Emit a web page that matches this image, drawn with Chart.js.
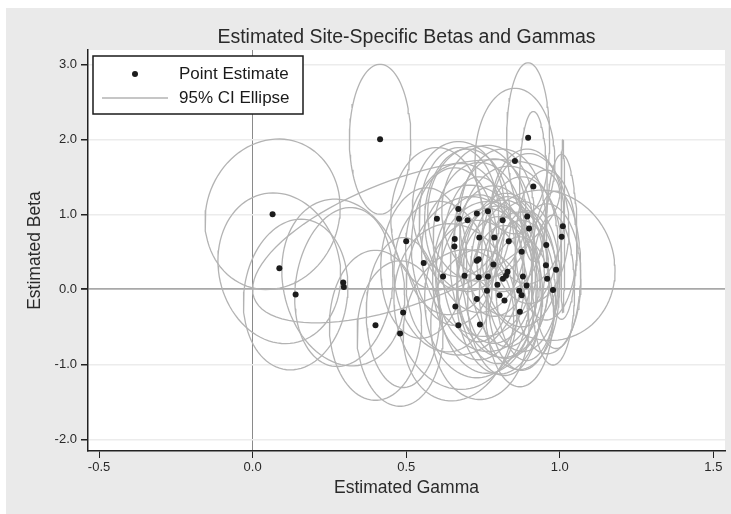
<!DOCTYPE html>
<html>
<head>
<meta charset="utf-8">
<script src="https://cdn.jsdelivr.net/npm/chart.js@4.4.1/dist/chart.umd.min.js"></script>
<style>
  html, body { margin: 0; padding: 0; background: #fff; }
  #wrap { width: 731px; height: 514px; }
</style>
</head>
<body>
<div id="wrap"><canvas id="chart" width="731" height="514"></canvas></div>
<script>
// point estimates per site
const gammaEst = [0.065, 0.087, 0.14, 0.295, 0.297, 0.415, 0.40, 0.48, 0.49, 0.50,
  0.557, 0.60, 0.62, 0.67, 0.672, 0.70, 0.73, 0.766, 0.814, 0.894,
  0.90, 0.897, 0.854, 0.914, 0.658, 0.657, 0.738, 0.787, 0.834, 0.73,
  0.736, 0.784, 0.876, 0.956, 1.01, 1.006, 0.955, 0.988, 0.959, 0.978,
  0.69, 0.736, 0.766, 0.797, 0.825, 0.83, 0.815, 0.88, 0.892, 0.868,
  0.876, 0.763, 0.804, 0.82, 0.73, 0.66, 0.87, 0.67, 0.74];
const betaEst = [1.00, 0.28, -0.07, 0.09, 0.03, 2.00, -0.48, -0.59, -0.31, 0.64,
  0.35, 0.94, 0.17, 1.07, 0.94, 0.92, 1.01, 1.04, 0.92, 0.97,
  0.81, 2.02, 1.71, 1.37, 0.67, 0.57, 0.69, 0.69, 0.64, 0.38,
  0.40, 0.33, 0.50, 0.59, 0.84, 0.70, 0.32, 0.26, 0.14, -0.01,
  0.18, 0.16, 0.17, 0.06, 0.18, 0.235, 0.14, 0.17, 0.05, -0.02,
  -0.08, -0.02, -0.08, -0.15, -0.13, -0.23, -0.30, -0.48, -0.47];

// 95% CI ellipse shape per site: half-width in gamma, half-height in beta, tilt (dBeta/dGamma)
const ellGammaHalf = [0.22, 0.20, 0.17, 0.20, 0.16, 0.10, 0.15, 0.14, 0.12, 0.50,
  0.14, 0.15, 0.16, 0.15, 0.13, 0.14, 0.16, 0.15, 0.14, 0.12,
  0.13, 0.07, 0.13, 0.045, 0.16, 0.14, 0.15, 0.13, 0.16, 0.18,
  0.12, 0.14, 0.13, 0.10, 0.006, 0.05, 0.225, 0.08, 0.11, 0.07,
  0.19, 0.15, 0.17, 0.13, 0.14, 0.12, 0.15, 0.12, 0.10, 0.13,
  0.11, 0.16, 0.14, 0.12, 0.17, 0.20, 0.11, 0.18, 0.16];
const ellBetaHalf = [1.0, 1.0, 1.0, 1.1, 1.05, 1.0, 1.0, 0.97, 1.0, 0.88,
  1.0, 0.95, 1.0, 0.9, 0.95, 0.95, 0.9, 0.88, 0.95, 0.9,
  1.0, 1.0, 0.97, 1.0, 1.0, 1.05, 1.0, 1.05, 1.0, 1.0,
  1.1, 1.05, 1.0, 1.0, 1.15, 1.1, 1.0, 1.05, 1.0, 1.0,
  1.05, 1.1, 1.0, 1.05, 1.1, 1.0, 1.05, 1.0, 1.0, 1.05,
  1.0, 1.1, 1.05, 1.0, 1.05, 1.1, 1.0, 1.0, 1.0];
const ellTilt = [0.4, -0.5, 0.6, -0.8, 0.9, 0, 0, 0, 0, 1.28,
  0.5, 0, -0.6, 0, 0, 0, 0, 0, 0, 0,
  0, 0, 0, 0, 0.8, 0, 0, 0, 0, -0.7,
  0, 0, 0, 0, 0, 0, -0.3, 0, 0, 0,
  0.6, 0, 0, 0, 0, 0, 0, 0, 0, 0,
  0, 0, 0, 0, 0, -0.5, 0, 0.7, 0];

const xTicks = [-0.5, 0.0, 0.5, 1.0, 1.5];
const yTicks = [-2.0, -1.0, 0.0, 1.0, 2.0, 3.0];

const ellipseColor = '#b3b3b3';
const dotColor = '#1c1c1c';
const fontFam = '"Liberation Sans", Arial, sans-serif';

function ellipseOutline(i) {
  const pts = [];
  for (let k = 0; k <= 90; k++) {
    const t = k / 90 * 2 * Math.PI;
    const dx = ellGammaHalf[i] * Math.cos(t);
    pts.push({ x: gammaEst[i] + dx, y: betaEst[i] + ellBetaHalf[i] * Math.sin(t) + ellTilt[i] * dx });
  }
  return pts;
}

const datasets = [{
  label: 'Point Estimate',
  data: gammaEst.map((g, i) => ({ x: g, y: betaEst[i] })),
  pointRadius: 3,
  pointBackgroundColor: dotColor,
  pointBorderWidth: 0,
  showLine: false
}];
gammaEst.forEach((g, i) => {
  datasets.push({
    label: '95% CI Ellipse',
    data: ellipseOutline(i),
    showLine: true,
    borderColor: ellipseColor,
    borderWidth: 1.3,
    pointRadius: 0,
    tension: 0
  });
});

// background, titles and legend, drawn like the Stata graph
const stataLook = {
  id: 'stataLook',
  beforeDraw(chart) {
    const { ctx, chartArea: a } = chart;
    ctx.save();
    ctx.fillStyle = '#ffffff';
    ctx.fillRect(0, 0, chart.width, chart.height);
    ctx.fillStyle = '#eaeaea';
    ctx.fillRect(6, 8, chart.width - 6, chart.height - 8);
    ctx.fillStyle = '#ffffff';
    ctx.fillRect(a.left, a.top, a.right - a.left, a.bottom - a.top);
    ctx.restore();
  },
  afterDraw(chart) {
    const { ctx, chartArea: a } = chart;
    ctx.save();
    ctx.fillStyle = '#2a2a2a';
    ctx.textAlign = 'center';
    ctx.textBaseline = 'middle';
    ctx.font = '19.5px ' + fontFam;
    ctx.fillText('Estimated Site-Specific Betas and Gammas', (a.left + a.right) / 2, 38);
    ctx.font = '17.5px ' + fontFam;
    ctx.fillText('Estimated Gamma', (a.left + a.right) / 2, 488);
    ctx.translate(35, (a.top + a.bottom) / 2);
    ctx.rotate(-Math.PI / 2);
    ctx.fillText('Estimated Beta', 0, 0);
    ctx.restore();

    // legend box
    ctx.save();
    ctx.fillStyle = '#ffffff';
    ctx.fillRect(93, 56, 210, 58);
    ctx.strokeStyle = '#1a1a1a';
    ctx.lineWidth = 1.5;
    ctx.strokeRect(93, 56, 210, 58);
    ctx.fillStyle = dotColor;
    ctx.beginPath();
    ctx.arc(135, 74, 3, 0, 2 * Math.PI);
    ctx.fill();
    ctx.strokeStyle = ellipseColor;
    ctx.lineWidth = 1.3;
    ctx.beginPath();
    ctx.moveTo(102, 98);
    ctx.lineTo(168, 98);
    ctx.stroke();
    ctx.fillStyle = '#1a1a1a';
    ctx.font = '17px ' + fontFam;
    ctx.textAlign = 'left';
    ctx.textBaseline = 'middle';
    ctx.fillText('Point Estimate', 179, 74);
    ctx.fillText('95% CI Ellipse', 179, 98);
    ctx.restore();
  }
};

new Chart(document.getElementById('chart'), {
  type: 'scatter',
  data: { datasets },
  plugins: [stataLook],
  options: {
    responsive: false,
    animation: false,
    layout: { padding: { top: 50, right: 6, left: 0, bottom: 0 } },
    plugins: {
      legend: { display: false },
      title: { display: false },
      tooltip: { enabled: false }
    },
    scales: {
      x: {
        type: 'linear',
        min: -0.536,
        max: 1.538,
        afterBuildTicks: s => { s.ticks = xTicks.map(v => ({ value: v })); },
        afterFit: s => { s.height = 63; },
        border: { color: '#222', width: 1.5 },
        grid: {
          drawOnChartArea: true,
          color: c => (c.tick && c.tick.value === 0 ? '#8a8a8a' : 'rgba(0,0,0,0)'),
          lineWidth: 1,
          tickColor: '#222',
          tickLength: 7
        },
        ticks: {
          color: '#2a2a2a',
          padding: 2,
          font: { family: fontFam, size: 13 },
          callback: v => v.toFixed(1)
        }
      },
      y: {
        type: 'linear',
        min: -2.156,
        max: 3.19,
        afterBuildTicks: s => { s.ticks = yTicks.map(v => ({ value: v })); },
        afterFit: s => { s.width = 88; },
        border: { color: '#222', width: 1.5 },
        grid: {
          color: c => (c.tick && c.tick.value === 0 ? '#a8a8a8' : '#ececec'),
          lineWidth: c => (c.tick && c.tick.value === 0 ? 1.8 : 1.5),
          tickColor: '#222',
          tickLength: 7
        },
        ticks: {
          color: '#2a2a2a',
          padding: 4,
          font: { family: fontFam, size: 13 },
          callback: v => v.toFixed(1)
        }
      }
    }
  }
});
</script>
</body>
</html>
